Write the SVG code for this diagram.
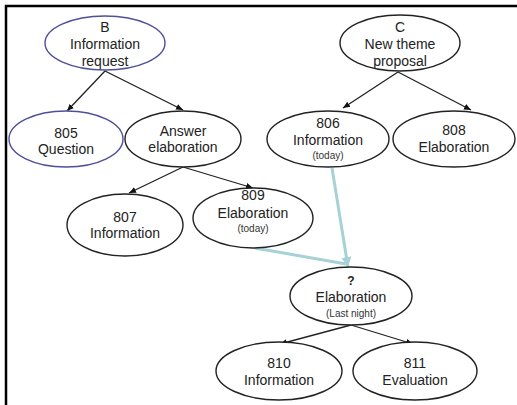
<svg xmlns="http://www.w3.org/2000/svg" width="517" height="405" viewBox="0 0 517 405">
<defs>
<marker id="ah" markerWidth="8" markerHeight="8" refX="7" refY="4" orient="auto" markerUnits="userSpaceOnUse"><path d="M0,1 L7,4 L0,7 Z" fill="#111"/></marker>
<marker id="bh" markerWidth="12" markerHeight="12" refX="10" refY="6" orient="auto" markerUnits="userSpaceOnUse"><path d="M0,1 L10,6 L0,11 Z" fill="#a6d2d6"/></marker>
</defs>
<style>
.n{fill:#fff;stroke:#222;stroke-width:1.4}
.nb{fill:#fff;stroke:#4f4f9a;stroke-width:1.4}
.t{font-family:"Liberation Sans",Arial,sans-serif;font-size:14px;fill:#222;text-anchor:middle}
.s{font-family:"Liberation Sans",Arial,sans-serif;font-size:10px;fill:#333;text-anchor:middle}
.c{stroke:#222;stroke-width:1.3;fill:none;marker-end:url(#ah)}
.b{stroke:#a6d2d6;stroke-width:3;fill:none}
</style>
<rect x="0" y="0" width="517" height="405" fill="#fff"/>
<path d="M6,405 V6 H517" fill="none" stroke="#000" stroke-width="2.5"/>
<g id="connectors">
<line class="c" x1="105" y1="71" x2="67" y2="111"/>
<line class="c" x1="105" y1="71" x2="183" y2="110"/>
<line class="c" x1="183" y1="167" x2="129" y2="193"/>
<line class="c" x1="183" y1="167" x2="253" y2="188"/>
<line class="c" x1="398" y1="72" x2="343" y2="108"/>
<line class="c" x1="398" y1="72" x2="471" y2="110"/>
<line class="c" x1="351" y1="325" x2="280" y2="344"/>
<line class="c" x1="351" y1="325" x2="413" y2="344"/>
<line class="b" x1="255" y1="248" x2="346" y2="264"/>
<line class="b" x1="332" y1="168" x2="348" y2="267" marker-end="url(#bh)"/>
</g>
<g id="nodeB"><ellipse class="nb" cx="105" cy="43" rx="60" ry="27"/>
<text class="t" x="105" y="32">B</text><text class="t" x="105" y="49">Information</text><text class="t" x="105" y="66">request</text></g>
<g id="n805"><ellipse class="nb" cx="66" cy="139" rx="57" ry="28"/>
<text class="t" x="66" y="138">805</text><text class="t" x="66" y="154">Question</text></g>
<g id="nAnswer"><ellipse class="n" cx="183" cy="139" rx="58" ry="28"/>
<text class="t" x="183" y="136">Answer</text><text class="t" x="183" y="152">elaboration</text></g>
<g id="n807"><ellipse class="n" cx="125" cy="225" rx="58" ry="31"/>
<text class="t" x="125" y="222">807</text><text class="t" x="125" y="238">Information</text></g>
<g id="n809"><ellipse class="n" cx="253" cy="218" rx="60" ry="30"/>
<text class="t" x="253" y="200">809</text><text class="t" x="253" y="218">Elaboration</text><text class="s" x="253" y="232">(today)</text></g>
<g id="nodeC"><ellipse class="n" cx="400" cy="43" rx="60" ry="28"/>
<text class="t" x="400" y="32">C</text><text class="t" x="400" y="49">New theme</text><text class="t" x="400" y="66">proposal</text></g>
<g id="n806"><ellipse class="n" cx="328" cy="139" rx="61" ry="28"/>
<text class="t" x="328" y="128">806</text><text class="t" x="328" y="145">Information</text><text class="s" x="328" y="159">(today)</text></g>
<g id="n808"><ellipse class="n" cx="454" cy="139" rx="61" ry="28"/>
<text class="t" x="454" y="135">808</text><text class="t" x="454" y="152">Elaboration</text></g>
<g id="nQ"><ellipse class="n" cx="351" cy="296" rx="61" ry="29"/>
<text class="t" x="351" y="285" style="font-weight:bold;font-size:12px">?</text><text class="t" x="351" y="302">Elaboration</text><text class="s" x="351" y="317">(Last night)</text></g>
<g id="n810"><ellipse class="n" cx="279" cy="371" rx="63" ry="29"/>
<text class="t" x="279" y="368">810</text><text class="t" x="279" y="385">Information</text></g>
<g id="n811"><ellipse class="n" cx="415" cy="371" rx="62" ry="29"/>
<text class="t" x="415" y="368">811</text><text class="t" x="415" y="385">Evaluation</text></g>
</svg>
